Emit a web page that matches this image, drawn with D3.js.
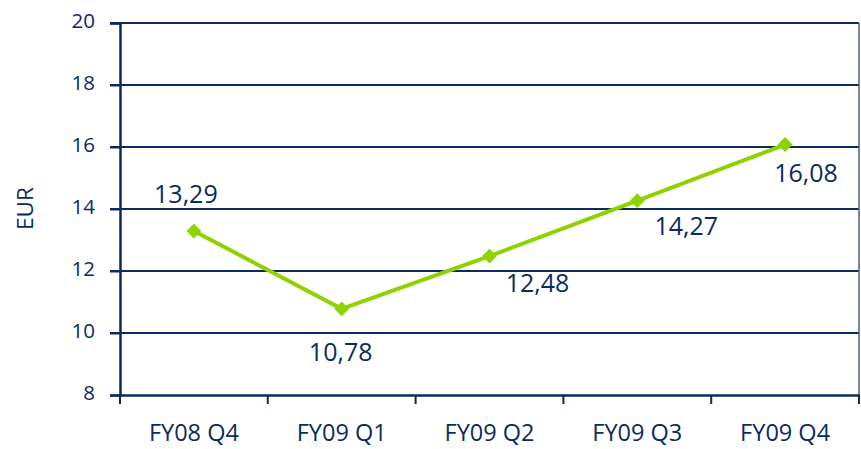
<!DOCTYPE html>
<html><head><meta charset="utf-8">
<script src="https://cdn.jsdelivr.net/npm/d3@7"></script>
<style>
html,body{margin:0;padding:0;background:#fff;}
svg{display:block;font-family:"Open Sans",sans-serif;}
</style></head>
<body><svg id="chart" width="861" height="449"></svg>
<script>
const categories = ["FY08 Q4","FY09 Q1","FY09 Q2","FY09 Q3","FY09 Q4"];
const values = [13.29, 10.78, 12.48, 14.27, 16.08];
const valueLabels = ["13,29","10,78","12,48","14,27","16,08"];
const yTicks = [8,10,12,14,16,18,20];
const yTitle = "EUR";
// label placement relative to the point [dx, dy]
const labelPlacement = [[-8,-28],[-1,52],[48,36],[49,34],[21,37]];

const navy = "#0b2b5e", green = "#8ed300";
const svg = d3.select("#chart");
const m = {left:120, right:859, top:23, bottom:395};

const x = d3.scaleBand().domain(categories).range([m.left, m.right]);
const y = d3.scaleLinear().domain([8,20]).range([m.bottom, m.top]);

// gridlines
svg.append("g").selectAll("line").data(yTicks.filter(d=>d>8)).join("line")
  .attr("x1", m.left-10).attr("x2", m.right)
  .attr("y1", d=>y(d)).attr("y2", d=>y(d))
  .attr("stroke", navy).attr("stroke-width", 2);

// right border
svg.append("line").attr("x1", m.right).attr("x2", m.right)
  .attr("y1", m.top).attr("y2", m.bottom+9)
  .attr("stroke", "#4a628a").attr("stroke-width", 1.5);

// y axis
const yAxis = svg.append("g").attr("transform", `translate(${m.left},0)`)
  .call(d3.axisLeft(y).tickValues(yTicks).tickSize(10).tickPadding(15));
yAxis.select(".domain").attr("stroke", navy).attr("stroke-width", 2.5);
yAxis.selectAll(".tick line").attr("stroke", navy).attr("stroke-width", 2);
yAxis.selectAll(".tick text").attr("fill", navy).attr("font-size", 20.5)
  .attr("font-family", "Open Sans").attr("dy", "0.23em");

// x axis
const xAxis = svg.append("g").attr("transform", `translate(0,${m.bottom})`)
  .call(d3.axisBottom(x).tickSize(0).tickPadding(29));
xAxis.select(".domain").attr("stroke", navy).attr("stroke-width", 2.5);
xAxis.selectAll(".tick text").attr("fill", navy).attr("font-size", 23.5)
  .attr("font-family", "Open Sans");
// category boundary ticks
const bounds = categories.map(c=>x(c)).concat([m.right]);
xAxis.append("g").selectAll("line").data(bounds).join("line")
  .attr("x1", d=>d).attr("x2", d=>d).attr("y1", 0).attr("y2", 9)
  .attr("stroke", navy).attr("stroke-width", 2);

// y title
svg.append("text").attr("transform", "translate(33,208.5) rotate(-90)")
  .attr("text-anchor", "middle").attr("fill", navy).attr("font-size", 22.5)
  .text(yTitle);

// line
const cx = c => x(c) + x.bandwidth()/2;
const pts = categories.map((c,i)=>[cx(c), y(values[i])]);
svg.append("path").attr("d", d3.line()(pts))
  .attr("fill","none").attr("stroke", green).attr("stroke-width", 4)
  .attr("stroke-linejoin","miter");

svg.append("g").selectAll("path").data(pts).join("path")
  .attr("d", d3.symbol(d3.symbolSquare, 110)())
  .attr("transform", d=>`translate(${d[0]},${d[1]}) rotate(45)`)
  .attr("fill", green);

// value labels
svg.append("g").selectAll("text").data(categories).join("text")
  .attr("x", (c,i)=>cx(c)+labelPlacement[i][0])
  .attr("y", (c,i)=>y(values[i])+labelPlacement[i][1])
  .attr("text-anchor","middle").attr("fill", navy).attr("font-size", 25)
  .text((c,i)=>valueLabels[i]);
</script></body></html>
